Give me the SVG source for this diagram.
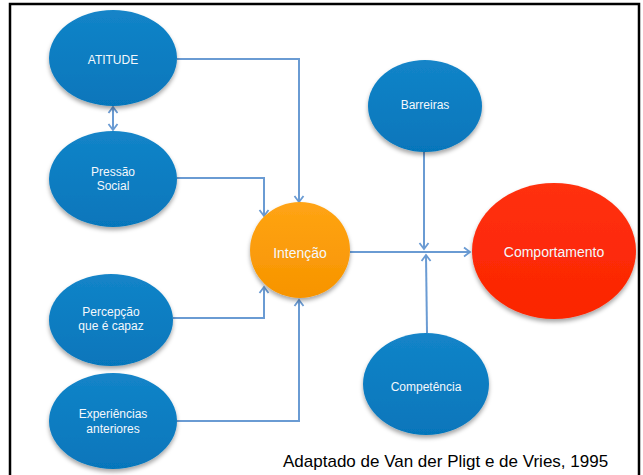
<svg xmlns="http://www.w3.org/2000/svg" width="643" height="475" viewBox="0 0 643 475">
<style>
.node{stroke:none;filter:url(#sh)}
.blue{fill:url(#gb)}
.lbl{font-family:"Liberation Sans",Arial,sans-serif;fill:#f4f8fc;text-anchor:middle;font-size:12px}
.big{font-size:14px}
.con{fill:none;stroke:#6a9bd3;stroke-width:2}
</style>
<defs>
<filter id="sh" x="-20%" y="-20%" width="140%" height="150%">
<feDropShadow dx="0" dy="3" stdDeviation="2" flood-color="#000" flood-opacity="0.35"/>
</filter>
<linearGradient id="gb" x1="0" y1="0" x2="0" y2="1">
<stop offset="0" stop-color="#1384c8"/>
<stop offset="1" stop-color="#0676bb"/>
</linearGradient>
<linearGradient id="go" x1="0" y1="0" x2="0" y2="1">
<stop offset="0" stop-color="#ffa414"/>
<stop offset="1" stop-color="#f79400"/>
</linearGradient>
<linearGradient id="gr" x1="0" y1="0" x2="0" y2="1">
<stop offset="0" stop-color="#ff3010"/>
<stop offset="1" stop-color="#fb2500"/>
</linearGradient>
<marker id="ah" viewBox="-8 -6 10 12" refX="0" refY="0" markerWidth="10" markerHeight="12" markerUnits="userSpaceOnUse" orient="auto-start-reverse" overflow="visible">
<path d="M-6,-4.5 L0,0 L-6,4.5" fill="none" stroke="#6a9bd3" stroke-width="1.8"/>
</marker>
</defs>
<rect x="0" y="0" width="643" height="475" fill="#fff"/>
<path d="M10,476 V4 H639 V476" fill="none" stroke="#000" stroke-width="2.5"/>

<g id="connectors">
<path class="con" d="M177,59 H299 V202" marker-end="url(#ah)"/>
<path class="con" d="M113,107 V130" marker-start="url(#ah)" marker-end="url(#ah)"/>
<path class="con" d="M177,178 H264 V216" marker-end="url(#ah)"/>
<path class="con" d="M173,318 H264 V287" marker-end="url(#ah)"/>
<path class="con" d="M177,421 H299 V300" marker-end="url(#ah)"/>
<path class="con" d="M350,252 H470" marker-end="url(#ah)"/>
<path class="con" d="M424,152 V249" marker-end="url(#ah)"/>
<path class="con" d="M427,333 L426,255" marker-end="url(#ah)"/>
</g>

<g id="atitude">
<ellipse class="node blue" cx="113" cy="58" rx="64" ry="48"/>
<text class="lbl" x="113" y="64">ATITUDE</text>
</g>
<g id="pressao">
<ellipse class="node blue" cx="113" cy="179" rx="64" ry="48"/>
<text class="lbl" x="113" y="176">Pressão</text>
<text class="lbl" x="113" y="190">Social</text>
</g>
<g id="percepcao">
<ellipse class="node blue" cx="111" cy="320" rx="62" ry="46"/>
<text class="lbl" x="111" y="316">Percepção</text>
<text class="lbl" x="111" y="330">que é capaz</text>
</g>
<g id="experiencias">
<ellipse class="node blue" cx="113" cy="421" rx="64" ry="48"/>
<text class="lbl" x="113" y="418">Experiências</text>
<text class="lbl" x="113" y="433">anteriores</text>
</g>
<g id="intencao">
<ellipse class="node" fill="url(#go)" cx="300" cy="250" rx="50" ry="48"/>
<text class="lbl big" x="300" y="258">Intenção</text>
</g>
<g id="barreiras">
<ellipse class="node blue" cx="425" cy="106" rx="57" ry="46"/>
<text class="lbl" x="425" y="109">Barreiras</text>
</g>
<g id="comportamento">
<ellipse class="node" fill="url(#gr)" cx="554" cy="251" rx="82" ry="68"/>
<text class="lbl big" x="554" y="257">Comportamento</text>
</g>
<g id="competencia">
<ellipse class="node blue" cx="426" cy="384" rx="63" ry="51"/>
<text class="lbl" x="426" y="391">Competência</text>
</g>

<text x="283" y="467" font-family="'Liberation Sans',Arial,sans-serif" font-size="17" fill="#000">Adaptado de Van der Pligt e de Vries, 1995</text>
</svg>
